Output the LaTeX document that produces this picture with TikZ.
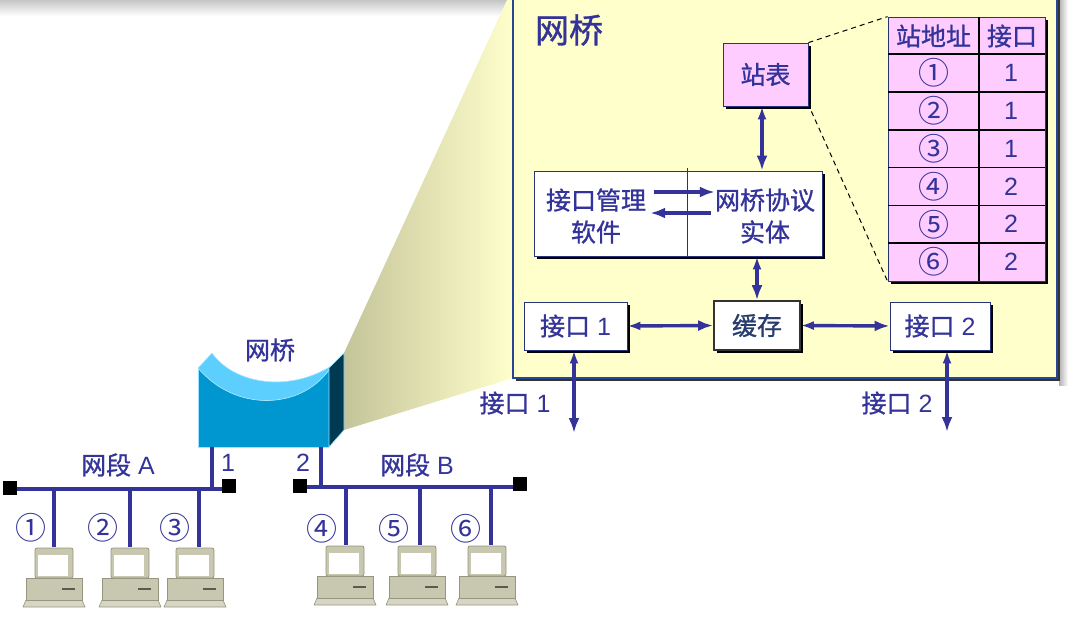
\documentclass[tikz,border=0pt]{standalone}
\usepackage{fontspec}
\setmainfont{Liberation Sans}
\newfontfamily\cjk{Noto Sans CJK SC}[FakeBold=1]
\newfontfamily\circf{Noto Sans CJK SC}
\usetikzlibrary{arrows.meta,shadows}
\newcommand\zh[1]{{\cjk #1}}
\newcommand\cn[1]{{\circf\fontsize{31}{32}\selectfont #1}}
\definecolor{tb}{RGB}{51,51,153}
\definecolor{yel}{RGB}{255,255,204}
\definecolor{pinkc}{RGB}{255,204,255}
\definecolor{boxb}{RGB}{40,50,120}
\definecolor{bigb}{RGB}{40,70,150}
\definecolor{bfront}{RGB}{0,150,207}
\definecolor{blip}{RGB}{92,207,255}
\definecolor{bside}{RGB}{0,58,82}
\definecolor{gleft}{RGB}{196,196,154}
\definecolor{cbody}{RGB}{200,200,176}
\definecolor{cdark}{RGB}{150,150,128}
\definecolor{kbc}{RGB}{214,214,196}
\definecolor{cachet}{RGB}{40,60,110}
\tikzset{
  txt/.style={text=tb,font=\fontsize{25}{32}\selectfont,inner sep=0pt,align=center},
  bigt/.style={text=tb,font=\fontsize{34}{38}\selectfont,inner sep=0pt},
  ibox/.style={draw=boxb,line width=0.8pt,fill=white,inner sep=0pt,
    drop shadow={shadow xshift=3pt,shadow yshift=-3pt,fill=black,opacity=1}},
  arr/.style={draw=tb,line width=3.4pt,-{Latex[length=15pt,width=11pt]}},
  biarr/.style={draw=tb,line width=3.4pt,{Latex[length=13pt,width=9pt]}-{Latex[length=15pt,width=11pt]}},
  bus/.style={draw=tb,line width=3.6pt},
  term/.style={fill=black,inner sep=0pt,minimum size=14pt},
  computer/.pic={
    \filldraw[fill=kbc,draw=cdark,line width=0.6pt] (-28,52) -- (28,52) -- (31,59) -- (-31,59) -- cycle;
    \filldraw[fill=cbody,draw=cdark,line width=0.8pt] (-28,30) rectangle (28,52);
    \draw[cdark!60!black,line width=1.6pt] (8,41) -- (21,41);
    \filldraw[fill=cbody,draw=cdark,line width=0.8pt,rounded corners=2pt] (-19,0) rectangle (19,30);
    \fill[white] (-16,7) rectangle (14,28);
  }
}
\begin{document}
\begin{tikzpicture}[x=1pt,y=-1pt]
\useasboundingbox (0,0) rectangle (1068,632);
% top grey strip
\shade[top color=gray!45,bottom color=white] (0,0) rectangle (510,16);
\shade[left color=gray!60,right color=white] (1059,0) rectangle (1068,385);
% zoom trapezoid
\shade[left color=gleft,right color=yel] (344,353) -- (507,0) -- (513,0) -- (513,378) -- (344,430) -- cycle;
% big bridge box
\fill[black!80] (516,-5) rectangle (1060,381);
\filldraw[fill=yel,draw=bigb,line width=1.2pt] (513,-5) rectangle (1057,378);
\node[bigt] (title) at (569,30) {\zh{网桥}};
% station table box
\node[ibox,fill=pinkc,minimum width=85pt,minimum height=63pt,txt] (zb) at (765.5,74.5) {\zh{站表}};
% management / protocol box
\node[ibox,minimum width=288pt,minimum height=85pt] (mgmt) at (678,213.5) {};
\draw[boxb,line width=0.8pt] (687,168) -- (687,256);
\node[txt] (lt) at (596,216) {\zh{接口管理}\\\zh{软件}};
\node[txt] (rt) at (765,216) {\zh{网桥协议}\\\zh{实体}};
\draw[arr] ([shift={(8,-24)}]lt.east) -- ([shift={(0,-24)}]rt.west);
\draw[arr] ([shift={(-4,-3)}]rt.west) -- ([shift={(4,-3)}]lt.east);
% cache and ports
\node[ibox,draw=black!80,line width=1.6pt,minimum width=86pt,minimum height=49pt,txt,text=cachet] (cache) at (757,325.5) {\zh{缓存}};
\node[ibox,minimum width=103pt,minimum height=48pt,txt] (if1) at (575.5,326) {\zh{接口} 1};
\node[ibox,minimum width=100pt,minimum height=48pt,txt] (if2) at (940,326) {\zh{接口} 2};
\draw[biarr] ([xshift=-3.5pt]zb.south) -- ([xshift=-3.5pt]zb.south |- mgmt.north);
\draw[biarr] (cache.north |- mgmt.south) -- (cache.north);
\draw[biarr] (if1.east) -- (cache.west);
\draw[biarr] (cache.east) -- (if2.west);
\coordinate (o1) at (574,433);
\coordinate (o2) at (947,432);
\draw[biarr] ([xshift=-1.5pt]if1.south) -- (o1);
\draw[biarr] ([xshift=7pt]if2.south) -- (o2);
\node[txt] (l1) at (515,403) {\zh{接口} 1};
\node[txt] (l2) at (897,403) {\zh{接口} 2};
% table
\node[ibox,fill=pinkc,minimum width=157pt,minimum height=264pt] (tbl) at (966.5,149) {};
\draw[black,line width=1.6pt] (979,17) -- (979,281);
\foreach \r in {54,91.8,129.7,167.5,205.3,243.2} {\draw[black,line width=1.6pt] (888,\r) -- (1045,\r);}
\node[txt] (h1) at (933.5,36) {\zh{站地址}};
\node[txt] (h2) at (1012,36) {\zh{接口}};
\foreach \i/\a/\b in {1/①/1,2/②/1,3/③/1,4/④/2,5/⑤/2,6/⑥/2} {
  \node[txt] (a\i) at (934,{54+37.83*(\i-0.5)}) {\cn{\a}};
  \node[txt] (b\i) at (1011,{54+37.83*(\i-0.5)}) {\b};
}
\draw[black,line width=1pt,dashed,dash pattern=on 5pt off 4pt] (zb.north east) -- (tbl.north west);
\draw[black,line width=1pt,dashed,dash pattern=on 5pt off 4pt] ([shift={(3,5)}]zb.south east) -- (tbl.south west);
% bridge icon
\fill[bfront] (198,368) -- (198,447) -- (329,447) -- (329,370) .. controls (300,410) and (235,412) .. (198,368) -- cycle;
\filldraw[fill=blip,draw=blip!50!white,line width=0.6pt] (198,368) -- (212,353) .. controls (235,385) and (290,392) .. (331,366) -- (329,370) .. controls (300,410) and (235,412) .. (198,368) -- cycle;
\draw[blip!60!white,line width=0.6pt] (198,368) -- (198,447) -- (329,447);
\filldraw[fill=bside,draw=blip!60!white,line width=0.6pt] (329,368) -- (344,353) -- (344,430) -- (329,447) -- cycle;
\node[txt] (bl) at (270,350) {\zh{网桥}};
\coordinate (p1) at (212,447);
\coordinate (p2) at (321,447);
% segment A
\coordinate (aL) at (10,489);
\coordinate (aR) at (230,489);
\draw[bus] (aL) -- (aR);
\draw[bus] (p1) -- (p1 |- aL);
\node[term] (tA1) at (10,488) {};
\node[term] (tA2) at (229,486) {};
\node[txt] (np1) at (228,463) {1};
\node[txt] (sA) at (118,465) {\zh{网段} A};
% segment B
\coordinate (bL) at (300,487);
\coordinate (bR) at (520,487);
\draw[bus] (bL) -- (bR);
\draw[bus] (p2) -- (p2 |- bL);
\node[term] (tB1) at (300,486) {};
\node[term] (tB2) at (520,484) {};
\node[txt] (np2) at (303,463) {2};
\node[txt] (sB) at (417,465) {\zh{网段} B};
% stations
\foreach \x/\c/\n/\lx in {54/54/①/31,130/130/②/103,199/195/③/175} {
  \draw[bus] (\x,489) -- (\x,547);
  \pic at (\c,548) {computer};
  \node[txt] at (\lx,528) {\cn{\n}};
}
\foreach \x/\c/\n/\lx in {346/345/④/322,420/417/⑤/394,491/487/⑥/466} {
  \draw[bus] (\x,487) -- (\x,545);
  \pic at (\c,546) {computer};
  \node[txt] at (\lx,529) {\cn{\n}};
}
\end{tikzpicture}
\end{document}
